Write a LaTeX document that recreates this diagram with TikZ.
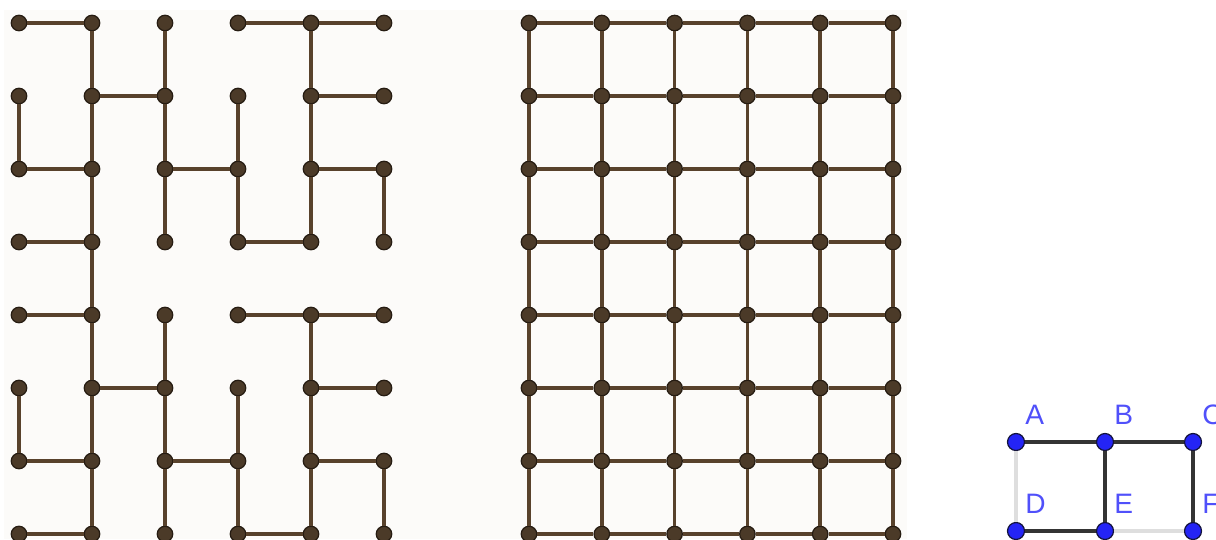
\documentclass[tikz,border=0pt]{standalone}
\usepackage{fontspec}
\setmainfont{Liberation Sans}
\usetikzlibrary{positioning}
\definecolor{paper}{RGB}{252, 251, 249}
\definecolor{treebrown}{RGB}{75, 58, 40}
\definecolor{treeedge}{RGB}{38, 28, 18}
\definecolor{linkbrown}{RGB}{88, 66, 44}
\definecolor{ptblue}{RGB}{36, 36, 245}
\definecolor{ptedge}{RGB}{20, 20, 60}
\definecolor{lblblue}{RGB}{80, 80, 250}
\definecolor{edgedark}{RGB}{52, 52, 52}
\definecolor{edgefaint}{RGB}{222, 222, 222}
\tikzset{
  dot/.style={circle, fill=treebrown, draw=treeedge, line width=0.7pt,
              inner sep=0pt, minimum size=0.31cm},
  link/.style={draw=linkbrown, line width=2.1pt},
  pt/.style={circle, fill=ptblue, draw=ptedge, line width=0.7pt,
             inner sep=0pt, minimum size=0.34cm},
  ptlabel/.style={text=lblblue, inner sep=0pt, font=\fontsize{16}{16}\selectfont},
  boldedge/.style={draw=edgedark, line width=2.1pt},
  faintedge/.style={draw=edgefaint, line width=2.1pt},
}

\begin{document}
\begin{tikzpicture}[x=0.02cm, y=-0.02cm]
        \useasboundingbox (0,0) rectangle (1216,539);
        \fill[paper] (4,10) rectangle (907,539);

        % spanning tree
        \foreach \c in {0,...,5}
          \foreach \r in {0,...,7}
            \node[dot] (t-\c-\r) at ({19+73*\c}, {23+73*\r}) {};
        \foreach \o in {0,4} {
          \foreach \a/\p/\b/\q in {0/0/1/0, 3/0/4/0, 4/0/5/0, 1/1/2/1, 4/1/5/1,
                                   0/2/1/2, 2/2/3/2, 4/2/5/2, 0/3/1/3, 3/3/4/3,
                                   1/0/1/1, 2/0/2/1, 4/0/4/1, 0/1/0/2, 1/1/1/2,
                                   2/1/2/2, 3/1/3/2, 4/1/4/2, 1/2/1/3, 2/2/2/3,
                                   3/2/3/3, 4/2/4/3, 5/2/5/3} {
            \pgfmathtruncatemacro{\pp}{\p+\o}
            \pgfmathtruncatemacro{\qq}{\q+\o}
            \draw[link] (t-\a-\pp) -- (t-\b-\qq);
          }
        }
        \draw[link] (t-1-3) -- (t-1-4);

        % full grid
        \foreach \c in {0,...,5}
          \foreach \r in {0,...,7}
            \node[dot] (g-\c-\r) at ({529+72.8*\c}, {23+73*\r}) {};
        \foreach \c in {0,...,5}
          \foreach \r in {0,...,7} {
            \pgfmathtruncatemacro{\nc}{\c+1}
            \pgfmathtruncatemacro{\nr}{\r+1}
            \ifnum\c<5 \draw[link] (g-\c-\r) -- (g-\nc-\r); \fi
            \ifnum\r<7 \draw[link] (g-\c-\r) -- (g-\c-\nr); \fi
          }

        % small graph
        \node[pt] (A) at (1016, 442) {};
        \node[pt] (B) at (1105, 442) {};
        \node[pt] (C) at (1193, 442) {};
        \node[pt] (D) at (1016, 531) {};
        \node[pt] (E) at (1105, 531) {};
        \node[pt] (F) at (1193, 531) {};
        \draw[faintedge] (A) -- (D);
        \draw[faintedge] (E) -- (F);
        \draw[boldedge] (A) -- (B);
        \draw[boldedge] (B) -- (C);
        \draw[boldedge] (B) -- (E);
        \draw[boldedge] (C) -- (F);
        \draw[boldedge] (D) -- (E);
        \foreach \n in {A,...,F}
          \node[ptlabel, above right=0.34cm and 0.18cm of \n.center] (l\n) {\n};
      \end{tikzpicture}
\end{document}
